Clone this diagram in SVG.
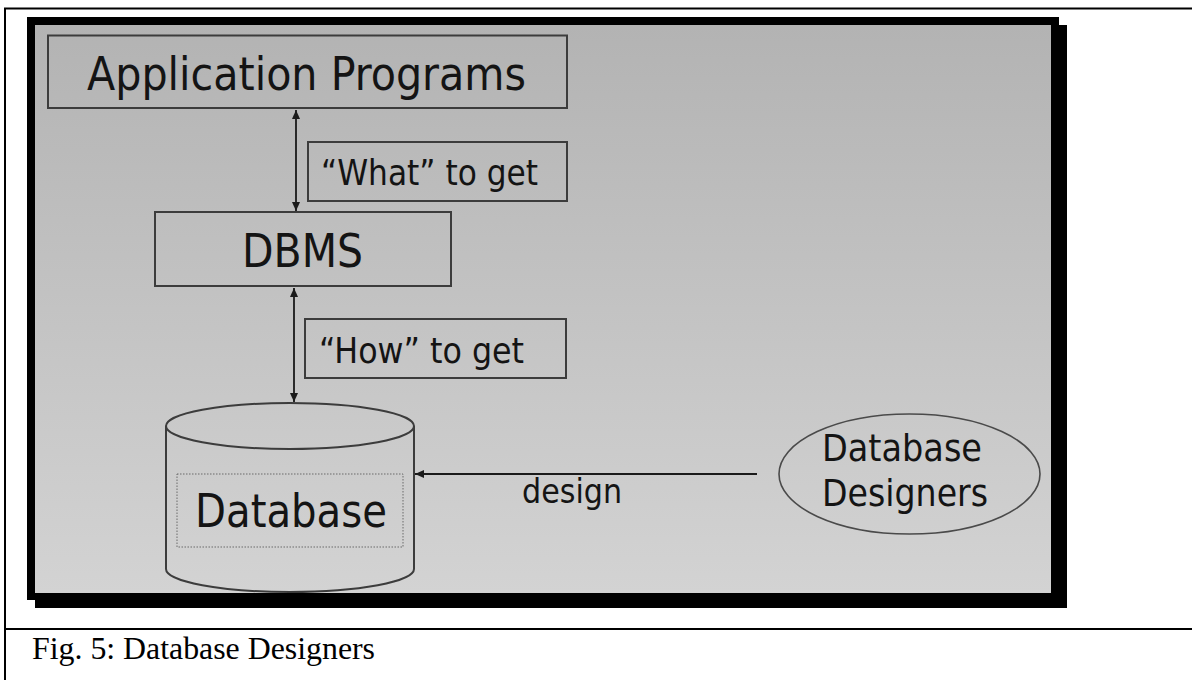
<svg xmlns="http://www.w3.org/2000/svg" width="1192" height="680" viewBox="0 0 1192 680">
  <defs>
    <linearGradient id="bg" x1="0" y1="0" x2="0" y2="1">
      <stop offset="0" stop-color="#b3b3b3"/>
      <stop offset="1" stop-color="#d3d3d3"/>
    </linearGradient>
    <marker id="ah" viewBox="0 0 10 10" refX="10" refY="5" markerWidth="9" markerHeight="8" markerUnits="userSpaceOnUse" orient="auto-start-reverse" preserveAspectRatio="none">
      <path d="M0,0 L10,5 L0,10 Z" fill="#1a1a1a"/>
    </marker>
    <style>
      .box { fill: none; stroke: #3c3c3c; stroke-width: 2; }
      .t { font-family: "DejaVu Sans Condensed", "DejaVu Sans", sans-serif; fill: #141414; }
      .big { font-size: 47px; }
      .mid { font-size: 36px; }
      .sm { font-size: 34px; }
      .ell { font-size: 38px; }
      .con { stroke: #1a1a1a; stroke-width: 1.8; fill: none; }
      .page { stroke: #000; stroke-width: 2; }
      .cap { font-family: "Liberation Serif", "Times New Roman", serif; font-size: 32px; fill: #000; }
    </style>
  </defs>

  <rect width="1192" height="680" fill="#fff"/>

  <!-- page table lines -->
  <g id="page">
    <line class="page" x1="4" y1="8.5" x2="1192" y2="8.5"/>
    <line class="page" x1="5" y1="8" x2="5" y2="680"/>
    <line class="page" x1="4" y1="629" x2="1192" y2="629"/>
    <text class="cap" x="32" y="659" textLength="343" lengthAdjust="spacingAndGlyphs">Fig. 5: Database Designers</text>
  </g>

  <!-- slide frame with shadow -->
  <g id="frame">
    <rect x="35" y="25" width="1032" height="583" fill="#000"/>
    <rect x="27" y="17" width="1032" height="583" fill="#000"/>
    <rect x="35" y="25" width="1016" height="568" fill="url(#bg)"/>
  </g>

  <g id="connectors">
    <line class="con" x1="296" y1="110" x2="296" y2="211" marker-start="url(#ah)" marker-end="url(#ah)"/>
    <line class="con" x1="294" y1="288" x2="294" y2="402" marker-start="url(#ah)" marker-end="url(#ah)"/>
    <line class="con" x1="757" y1="474" x2="415" y2="474" marker-end="url(#ah)"/>
    <text class="t sm" x="522" y="503" textLength="100" lengthAdjust="spacingAndGlyphs">design</text>
  </g>

  <g id="app">
    <rect class="box" x="48" y="35.5" width="519" height="72.5"/>
    <text class="t big" x="87" y="90" textLength="439" lengthAdjust="spacingAndGlyphs">Application Programs</text>
  </g>

  <g id="what">
    <rect class="box" x="308" y="142" width="259" height="59"/>
    <text class="t mid" x="321" y="185" textLength="217" lengthAdjust="spacingAndGlyphs">“What” to get</text>
  </g>

  <g id="dbms">
    <rect class="box" x="155" y="212" width="296" height="74"/>
    <text class="t big" x="242" y="267" textLength="121" lengthAdjust="spacingAndGlyphs">DBMS</text>
  </g>

  <g id="how">
    <rect class="box" x="305" y="319" width="261" height="59"/>
    <text class="t mid" x="319" y="363" textLength="205" lengthAdjust="spacingAndGlyphs">“How” to get</text>
  </g>

  <g id="database">
    <path class="box" d="M166,426 A124,23 0 0 1 414,426 A124,23 0 0 1 166,426 Z"/>
    <path class="box" d="M166,426 L166,569 A124,23 0 0 0 414,569 L414,426"/>
    <rect x="177" y="474" width="226" height="73" fill="none" stroke="#6a6a6a" stroke-width="1" stroke-dasharray="1.5,1.5"/>
    <text class="t big" x="195" y="527" textLength="192" lengthAdjust="spacingAndGlyphs">Database</text>
  </g>

  <g id="designers">
    <ellipse cx="909.5" cy="474" rx="130.5" ry="60" fill="none" stroke="#4a4a4a" stroke-width="1.6"/>
    <text class="t ell" x="822" y="461" textLength="160" lengthAdjust="spacingAndGlyphs">Database</text>
    <text class="t ell" x="822" y="506" textLength="166" lengthAdjust="spacingAndGlyphs">Designers</text>
  </g>
</svg>
